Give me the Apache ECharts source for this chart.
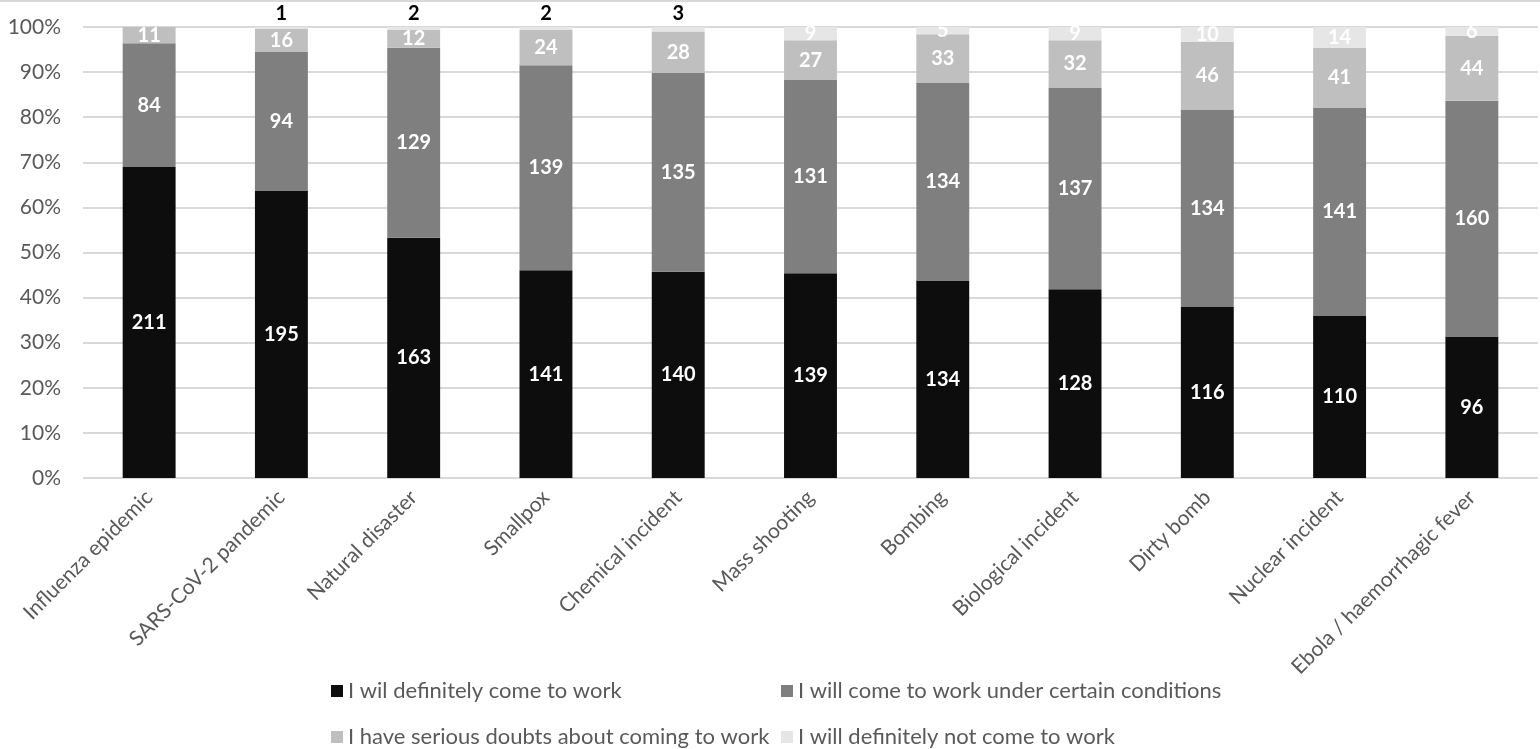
<!DOCTYPE html>
<html><head><meta charset="utf-8">
<script src="https://cdn.jsdelivr.net/npm/echarts@6/dist/echarts.min.js"></script>
<style>html,body{margin:0;padding:0;background:#fff}#c{width:1540px;height:749px}</style>
</head><body><div id="c"></div>
<script>
const categories = ['Influenza epidemic','SARS-CoV-2 pandemic','Natural disaster','Smallpox','Chemical incident','Mass shooting','Bombing','Biological incident','Dirty bomb','Nuclear incident','Ebola / haemorrhagic fever'];
const seriesNames = ['I wil definitely come to work','I will come to work under certain conditions','I have serious doubts about coming to work','I will definitely not come to work'];
const definitely = [211,195,163,141,140,139,134,128,116,110,96];
const conditions = [84,94,129,139,135,131,134,137,134,141,160];
const doubts = [11,16,12,24,28,27,33,32,46,41,44];
const notCome = [0,1,2,2,3,9,5,9,10,14,6];
const yTicks = [0,10,20,30,40,50,60,70,80,90,100];

const colors = ['#0d0d0d','#7f7f7f','#bfbfbf','#e6e6e6'];
const all = [definitely, conditions, doubts, notCome];
const totals = categories.map((_, i) => all.reduce((s, a) => s + a[i], 0));
const FONT = 'Lato';

function makeData(arr, si) {
  return arr.map((v, i) => {
    const d = { value: v / totals[i] * 100, count: v };
    if (v === 0) d.label = { show: false };
    else if (si === 3 && v < 5) d.label = { position: 'top', color: '#000', distance: 3 };
    return d;
  });
}

const series = all.map((arr, si) => ({
  name: seriesNames[si],
  type: 'bar',
  stack: 'total',
  barWidth: '40%',
  itemStyle: { color: colors[si] },
  label: {
    show: true, position: 'inside', color: '#fff', fontFamily: FONT, fontWeight: 'bold', fontSize: 20,
    formatter: p => String(p.data.count)
  },
  data: makeData(arr, si)
}));

const chart = echarts.init(document.getElementById('c'));
chart.setOption({
  animation: false,
  textStyle: { fontFamily: FONT },
  grid: { left: 83, right: 2, top: 27, bottom: 271, containLabel: false },
  xAxis: {
    type: 'category', data: categories,
    axisLine: { show: false }, axisTick: { show: false },
    axisLabel: { rotate: 45, interval: 0, color: '#595959', fontSize: 21, fontFamily: FONT, margin: 16 }
  },
  yAxis: {
    type: 'value', min: 0, max: 100, interval: 10,
    axisLine: { show: false }, axisTick: { show: false },
    splitLine: { lineStyle: { color: '#d9d9d9', width: 2 } },
    axisLabel: { color: '#595959', fontSize: 21, fontFamily: FONT, margin: 22,
      formatter: v => yTicks.includes(v) ? v + '%' : '' }
  },
  legend: [0,1,2,3].map(i => ({
    data: [seriesNames[i]],
    left: i % 2 === 0 ? 326 : 776,
    top: i < 2 ? 675 : 721,
    icon: 'rect', itemWidth: 12, itemHeight: 12, itemGap: 6,
    textStyle: { color: '#595959', fontSize: 22, fontFamily: FONT }
  })),
  graphic: [{ type: 'line', shape: { x1: 0, y1: 1, x2: 1540, y2: 1 }, style: { stroke: '#d9d9d9', lineWidth: 2 } }],
  series
});
</script></body></html>
